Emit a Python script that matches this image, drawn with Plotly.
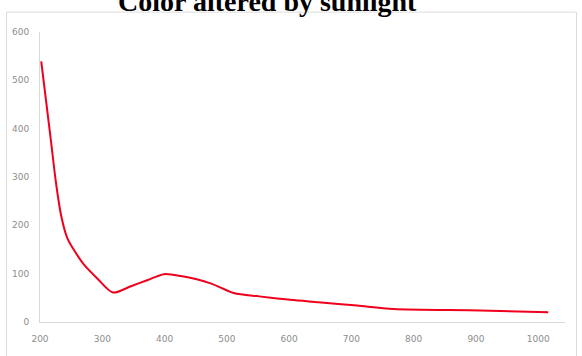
import plotly.graph_objects as go

# Absorbance spectrum of the sunlight-exposed sample
wavelength_nm = [202, 210, 218, 226, 234, 244, 258, 271, 292, 317, 346, 373, 399,
                 426, 474, 511, 552, 602, 647, 709, 768, 907, 1016]
absorbance = [539, 455, 370, 285, 220, 173, 142, 118, 90, 61, 74, 87, 99,
              95, 80, 60, 53, 46, 41, 34, 27, 24, 20]

x_ticks = [200, 300, 400, 500, 600, 700, 800, 900, 1000]
y_ticks = [0, 100, 200, 300, 400, 500, 600]
title_text = "Color altered by sunlight"

W, H = 582, 356
L, R, T, B = 39, 17, 32, 32
PW, PH = W - L - R, H - T - B


def px_to_paper_x(px):
    return (px - L) / PW


def py_to_paper_y(py):
    return (H - B - py) / PH


fig = go.Figure()
fig.add_trace(go.Scatter(
    x=wavelength_nm, y=absorbance, mode="lines",
    line=dict(color="#f0001c", width=2, shape="spline", smoothing=0.8),
    hoverinfo="x+y", showlegend=False,
))

axis_font = dict(family="DejaVu Sans, Arial, sans-serif", size=9, color="#8c8c8c")

fig.update_layout(
    width=W, height=H,
    margin=dict(l=L, r=R, t=T, b=B, pad=0),
    paper_bgcolor="white", plot_bgcolor="white",
    xaxis=dict(
        range=[200, 200 + PW / 0.624], tickvals=x_ticks,
        ticktext=[str(v) for v in x_ticks],
        showgrid=False, zeroline=False, showline=True, linecolor="#d9d9d9",
        linewidth=1, ticks="", tickfont=axis_font, ticklabelstandoff=8,
    ),
    yaxis=dict(
        range=[0, 600], tickvals=y_ticks,
        showgrid=False, zeroline=False, showline=True, linecolor="#d9d9d9",
        linewidth=1, ticks="", tickfont=axis_font, ticklabelstandoff=8,
    ),
    shapes=[dict(
        type="rect", xref="paper", yref="paper",
        x0=px_to_paper_x(5.5), x1=px_to_paper_x(576.5),
        y0=py_to_paper_y(362), y1=py_to_paper_y(12),
        line=dict(color="#dcdcdc", width=1), fillcolor="rgba(0,0,0,0)", layer="below",
    )],
    annotations=[dict(
        text=f"<b>{title_text}</b>", xref="paper", yref="paper",
        x=px_to_paper_x(267), y=py_to_paper_y(1.5), xanchor="center", yanchor="middle",
        showarrow=False,
        font=dict(family="Liberation Serif, Times New Roman, serif", size=28, color="black"),
    )],
)

fig.write_html("out.html")
